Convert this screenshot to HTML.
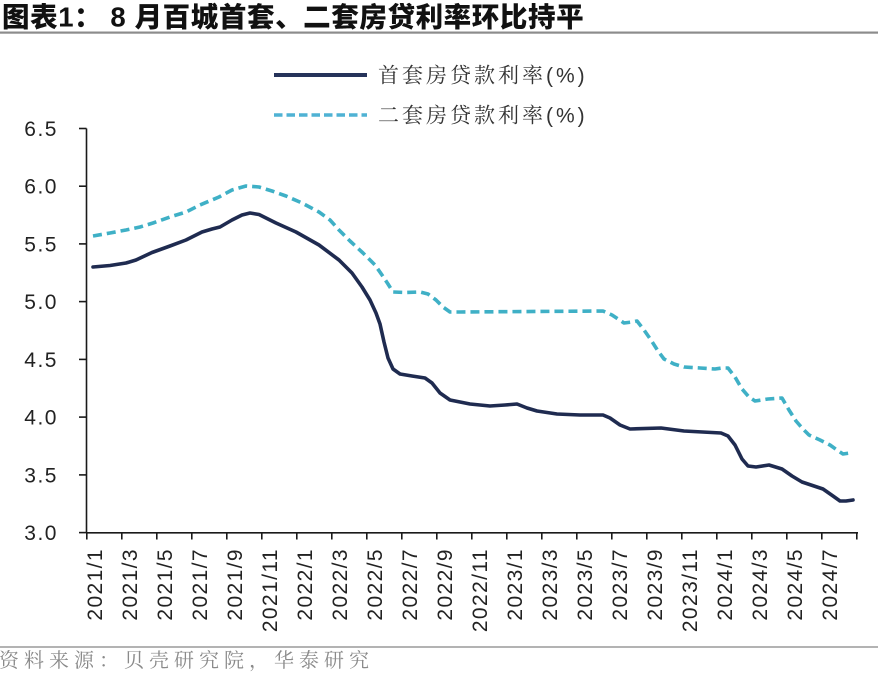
<!DOCTYPE html>
<html>
<head>
<meta charset="utf-8">
<style>
  html,body{margin:0;padding:0;background:#fff;}
  body{width:878px;height:681px;overflow:hidden;}
  svg{display:block;}
</style>
</head>
<body>
<svg width="878" height="681" viewBox="0 0 878 681" xmlns="http://www.w3.org/2000/svg">
  <rect x="0" y="0" width="878" height="681" fill="#ffffff"/>

  <!-- Title -->
  <text x="2" y="17" font-family="'Liberation Sans','Noto Sans CJK SC',sans-serif" font-size="27.5" font-weight="900" fill="#111" dominant-baseline="central" letter-spacing="0.6">图表1： 8 月百城首套、二套房贷利率环比持平</text>
  <rect x="0" y="31.5" width="878" height="2.2" fill="#8c8c8c"/>

  <!-- Legend -->
  <line x1="274" y1="75" x2="367" y2="75" stroke="#26335a" stroke-width="4"/>
  <text x="378" y="76" font-family="'Liberation Sans','Noto Serif CJK SC',serif" font-size="21" fill="#333" dominant-baseline="central" letter-spacing="3">首套房贷款利率(%)</text>
  <line x1="274" y1="115" x2="367" y2="115" stroke="#4fb2d4" stroke-width="3.5" stroke-dasharray="8.5 4"/>
  <text x="378" y="116" font-family="'Liberation Sans','Noto Serif CJK SC',serif" font-size="21" fill="#333" dominant-baseline="central" letter-spacing="3">二套房贷款利率(%)</text>

  <!-- Y axis -->
  <line x1="86.5" y1="128.5" x2="86.5" y2="533" stroke="#1a1a1a" stroke-width="1.6"/>
  <g stroke="#1a1a1a" stroke-width="1.6">
    <line x1="79" y1="128.5" x2="86.5" y2="128.5"/>
    <line x1="79" y1="186.2" x2="86.5" y2="186.2"/>
    <line x1="79" y1="243.9" x2="86.5" y2="243.9"/>
    <line x1="79" y1="301.6" x2="86.5" y2="301.6"/>
    <line x1="79" y1="359.4" x2="86.5" y2="359.4"/>
    <line x1="79" y1="417.1" x2="86.5" y2="417.1"/>
    <line x1="79" y1="474.9" x2="86.5" y2="474.9"/>
    <line x1="79" y1="532.6" x2="86.5" y2="532.6"/>
  </g>
  <g font-family="'Liberation Sans',sans-serif" font-size="21" fill="#222" text-anchor="end" dominant-baseline="central" letter-spacing="1.5">
    <text x="58" y="129.5">6.5</text>
    <text x="58" y="187.2">6.0</text>
    <text x="58" y="244.9">5.5</text>
    <text x="58" y="302.6">5.0</text>
    <text x="58" y="360.4">4.5</text>
    <text x="58" y="418.1">4.0</text>
    <text x="58" y="475.9">3.5</text>
    <text x="58" y="533.6">3.0</text>
  </g>

  <!-- X axis -->
  <line x1="86" y1="532.8" x2="858" y2="532.8" stroke="#1a1a1a" stroke-width="1.6"/>
  <g stroke="#1a1a1a" stroke-width="1.6">
    <line x1="86.8" y1="532.8" x2="86.8" y2="539.5"/>
    <line x1="121.8" y1="532.8" x2="121.8" y2="539.5"/>
    <line x1="156.8" y1="532.8" x2="156.8" y2="539.5"/>
    <line x1="191.8" y1="532.8" x2="191.8" y2="539.5"/>
    <line x1="226.8" y1="532.8" x2="226.8" y2="539.5"/>
    <line x1="261.8" y1="532.8" x2="261.8" y2="539.5"/>
    <line x1="296.8" y1="532.8" x2="296.8" y2="539.5"/>
    <line x1="331.8" y1="532.8" x2="331.8" y2="539.5"/>
    <line x1="366.8" y1="532.8" x2="366.8" y2="539.5"/>
    <line x1="401.8" y1="532.8" x2="401.8" y2="539.5"/>
    <line x1="436.8" y1="532.8" x2="436.8" y2="539.5"/>
    <line x1="471.8" y1="532.8" x2="471.8" y2="539.5"/>
    <line x1="506.8" y1="532.8" x2="506.8" y2="539.5"/>
    <line x1="541.8" y1="532.8" x2="541.8" y2="539.5"/>
    <line x1="576.8" y1="532.8" x2="576.8" y2="539.5"/>
    <line x1="611.8" y1="532.8" x2="611.8" y2="539.5"/>
    <line x1="646.8" y1="532.8" x2="646.8" y2="539.5"/>
    <line x1="681.8" y1="532.8" x2="681.8" y2="539.5"/>
    <line x1="716.8" y1="532.8" x2="716.8" y2="539.5"/>
    <line x1="751.8" y1="532.8" x2="751.8" y2="539.5"/>
    <line x1="786.8" y1="532.8" x2="786.8" y2="539.5"/>
    <line x1="821.8" y1="532.8" x2="821.8" y2="539.5"/>
    <line x1="856.8" y1="532.8" x2="856.8" y2="539.5"/>
  </g>
  <g font-family="'Liberation Sans',sans-serif" font-size="21" fill="#222" text-anchor="end" dominant-baseline="central" letter-spacing="1.4">
    <text transform="translate(95.5,548) rotate(-90)">2021/1</text>
    <text transform="translate(130.5,548) rotate(-90)">2021/3</text>
    <text transform="translate(165.5,548) rotate(-90)">2021/5</text>
    <text transform="translate(200.5,548) rotate(-90)">2021/7</text>
    <text transform="translate(235.5,548) rotate(-90)">2021/9</text>
    <text transform="translate(270.5,548) rotate(-90)">2021/11</text>
    <text transform="translate(305.5,548) rotate(-90)">2022/1</text>
    <text transform="translate(340.5,548) rotate(-90)">2022/3</text>
    <text transform="translate(375.5,548) rotate(-90)">2022/5</text>
    <text transform="translate(410.5,548) rotate(-90)">2022/7</text>
    <text transform="translate(445.5,548) rotate(-90)">2022/9</text>
    <text transform="translate(480.5,548) rotate(-90)">2022/11</text>
    <text transform="translate(515.5,548) rotate(-90)">2023/1</text>
    <text transform="translate(550.5,548) rotate(-90)">2023/3</text>
    <text transform="translate(585.5,548) rotate(-90)">2023/5</text>
    <text transform="translate(620.5,548) rotate(-90)">2023/7</text>
    <text transform="translate(655.5,548) rotate(-90)">2023/9</text>
    <text transform="translate(690.5,548) rotate(-90)">2023/11</text>
    <text transform="translate(725.5,548) rotate(-90)">2024/1</text>
    <text transform="translate(760.5,548) rotate(-90)">2024/3</text>
    <text transform="translate(795.5,548) rotate(-90)">2024/5</text>
    <text transform="translate(830.5,548) rotate(-90)">2024/7</text>
  </g>

  <!-- Second-home rate (dashed) -->
  <polyline fill="none" stroke="#3fb0c6" stroke-width="3.6" stroke-dasharray="9 5" stroke-linejoin="round"
    points="93,236 110,233 126,230 140,227 153,223 170,217 186,212 200,205 219,197 232,190 246,186 259,187 272,191 286,196 302,203 319,212 330,220 339,230 350,241 363,253 375,265 382,275 388,284 393,292 405,292.5 420,292 428,294 436,300 443,307 450,312 460,312 603,311 612,315 624,323 632,322 637,321 644,330 651,340 658,351 664,359 674,364 684,367 700,368 715,369 722,368 728,368 735,377 742,389 749,397 755,401 768,399 782,398 789,410 796,421 803,429 809,435 820,440 830,445 837,450 843,454 850,453"/>

  <!-- First-home rate (solid) -->
  <polyline fill="none" stroke="#1f2b50" stroke-width="3.6" stroke-linejoin="round" stroke-linecap="round"
    points="93,267 110,265.5 126,263 136,260 152,252.5 170,246 186,240 202,232 212,229 220,227 232,220 242,215 250,213 259,214.5 268,219 276,223 296,232 319,245 339,260 352,273 362,287 370,300 376,313 380,324 384,342 388,358 393,369 400,374 412,376 425,378 432,383 440,393 450,400 470,404 490,406 505,405 517,404 527,408 537,411 557,414 580,415 603,415 610,418 620,425 630,429 661,428 684,431 721,433 728,436 735,445 742,459 748,466 756,467 769,465 782,469 792,476 802,482 823,489 833,496 840,501 846,501 853,500"/>

  <!-- Footer -->
  <rect x="0" y="646" width="878" height="2" fill="#b3b3b3"/>
  <text x="-1" y="661" font-family="'Liberation Serif','Noto Serif CJK SC',serif" font-size="20" fill="#8a8a8a" dominant-baseline="central" letter-spacing="5">资料来源：贝壳研究院，华泰研究</text>
</svg>
</body>
</html>
